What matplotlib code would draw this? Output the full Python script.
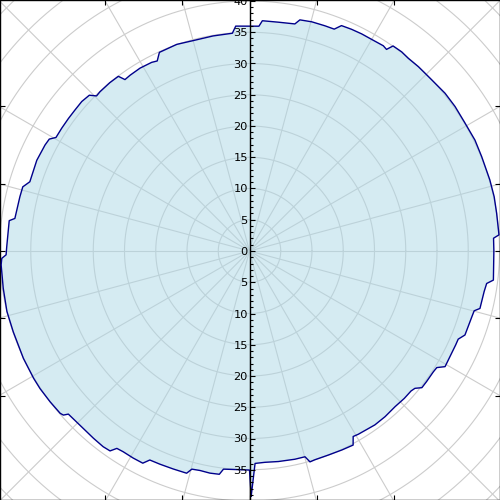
import numpy as np
import matplotlib
matplotlib.use("Agg")
import matplotlib.pyplot as plt
from matplotlib.ticker import MultipleLocator, FuncFormatter

# outline of the shaded region, polar: angle (deg) and radius
theta_deg = [
    -89.6, -88.5, -85.8, -82.2, -77.7, -74.9, -74.0, -72.6, -68.9, -65.1,
    -61.9, -60.8, -59.3, -54.2, -50.7, -46.9, -43.6, -40.9, -39.7, -38.4,
    -36.4, -33.3, -31.9, -30.6, -24.5, -22.9, -21.3, -16.5, -14.9, -14.0,
    -9.8, -7.8, -6.8, 0.0, 3.0, 3.7, 8.7, 12.5, 16.5, 22.1,
    26.2, 30.8, 35.1, 38.9, 43.2, 47.5, 50.5, 52.6, 55.0, 55.8,
    56.9, 59.6, 62.7, 65.3, 67.8, 69.1, 71.5, 74.8, 77.7, 78.7,
    82.8, 86.8, 87.6, 93.5, 94.5, 99.6, 105.0, 109.4, 114.4, 115.9,
    117.4, 120.9, 124.2, 126.0, 126.9, 129.7, 133.2, 134.6, 135.8, 138.3,
    141.1, 143.8, 146.8, 149.6, 150.8, 152.6, 156.9, 162.5, 164.2, 166.7,
    172.1, 172.8, 179.0, 180.9, 181.7, 183.2, 188.6, 194.0, 198.9, 205.4,
    210.5, 213.3, 217.1, 220.6, 221.4, 222.0, 225.8, 230.2, 233.2, 235.1,
    236.1, 237.8, 240.7, 243.3, 244.5, 247.2, 250.7, 254.2, 255.2, 257.3,
    259.9, 262.3, 263.2, 265.8, 270.0,
]
radius = [
    39.2, 34.0, 33.9, 34.0, 34.1, 34.1, 35.1, 35.0, 35.0, 35.1,
    35.2, 34.0, 34.1, 34.3, 34.25, 34.1, 34.2, 34.2, 34.4, 35.2,
    35.2, 35.2, 35.3, 36.35, 36.25, 36.25, 37.0, 37.1, 37.2, 38.0,
    38.1, 38.3, 39.3, 39.1, 39.1, 40.0, 40.0, 40.1, 40.1, 40.1,
    40.2, 40.1, 40.2, 40.2, 40.0, 40.0, 39.95, 40.1, 40.05, 39.0,
    39.2, 39.1, 39.1, 39.05, 38.95, 38.0, 38.0, 38.0, 37.85, 37.05,
    36.9, 36.9, 36.0, 36.05, 34.95, 34.9, 34.85, 35.05, 34.9, 33.8,
    34.0, 34.1, 34.0, 33.9, 34.95, 35.0, 34.95, 34.85, 35.75, 35.95,
    35.9, 35.9, 35.9, 35.9, 36.7, 36.85, 37.0, 36.85, 37.7, 37.75,
    37.9, 38.75, 38.85, 38.95, 39.65, 39.8, 39.85, 40.0, 39.95, 40.05,
    40.1, 40.1, 40.0, 39.9, 39.7, 39.0, 38.9, 39.0, 39.1, 39.0,
    38.05, 37.95, 38.0, 38.0, 37.05, 37.0, 36.95, 36.95, 36.1, 36.0,
    36.1, 36.05, 35.15, 35.05, 35.05,
]

ring_radii = [5, 10, 15, 20, 25, 30, 35, 40, 45, 50, 55, 60]
spoke_deg = list(range(0, 360, 15))

XLIM = (-39.92, 40.08)
YLIM = (-39.84, 40.16)

fig = plt.figure(figsize=(5, 5), dpi=100)
ax = fig.add_axes([0, 0, 1, 1])
ax.set_xlim(XLIM)
ax.set_ylim(YLIM)

# polar grid: rings and spokes
phi = np.linspace(0, 2 * np.pi, 721)
for rr in ring_radii:
    ax.plot(rr * np.cos(phi), rr * np.sin(phi), color='#cccccc', lw=0.8, zorder=1)
for a in spoke_deg:
    ar = np.deg2rad(a)
    ax.plot([0, 80 * np.cos(ar)], [0, 80 * np.sin(ar)], color='#cccccc', lw=0.8, zorder=1)

# the data
t = np.deg2rad(theta_deg)
r = np.array(radius)
x = r * np.cos(t)
y = r * np.sin(t)
ax.fill(x, y, facecolor='lightblue', alpha=0.5, edgecolor='none', zorder=2)
ax.plot(np.append(x, x[0]), np.append(y, y[0]), color='darkblue', lw=1.0, zorder=3)

# frame ticks where the spokes meet the border
top_ticks = [YLIM[1] / np.tan(np.deg2rad(a)) for a in (60, 75, 90, 105, 120)]
side_ticks = [XLIM[1] * np.tan(np.deg2rad(a)) for a in (-30, -15, 0, 15, 30)]
ax.set_xticks(top_ticks)
ax.set_yticks(side_ticks)
ax.tick_params(direction='in', length=3.3, width=0.8, top=True, right=True,
               labelleft=False, labelbottom=False)
for s in ax.spines.values():
    s.set_color('black')
    s.set_linewidth(1.0)

# floating radial axis through the centre
ax2 = fig.add_axes([0, 0, 1, 1])
ax2.patch.set_visible(False)
ax2.set_xlim(XLIM)
ax2.set_ylim(YLIM)
for side in ('top', 'right', 'bottom'):
    ax2.spines[side].set_visible(False)
ax2.spines['left'].set_position(('data', 0))
ax2.spines['left'].set_linewidth(1.0)
ax2.set_xticks([])
ax2.yaxis.set_major_locator(MultipleLocator(5))
ax2.yaxis.set_minor_locator(MultipleLocator(1))
ax2.yaxis.set_major_formatter(FuncFormatter(lambda v, p: '%d' % abs(round(v))))
ax2.tick_params(axis='y', which='major', direction='in', length=3.3, width=0.8,
                labelsize=8.2, pad=1.2, labelcolor='black')
ax2.tick_params(axis='y', which='minor', direction='in', length=2.2, width=0.8)

fig.savefig('out.png', dpi=100)
